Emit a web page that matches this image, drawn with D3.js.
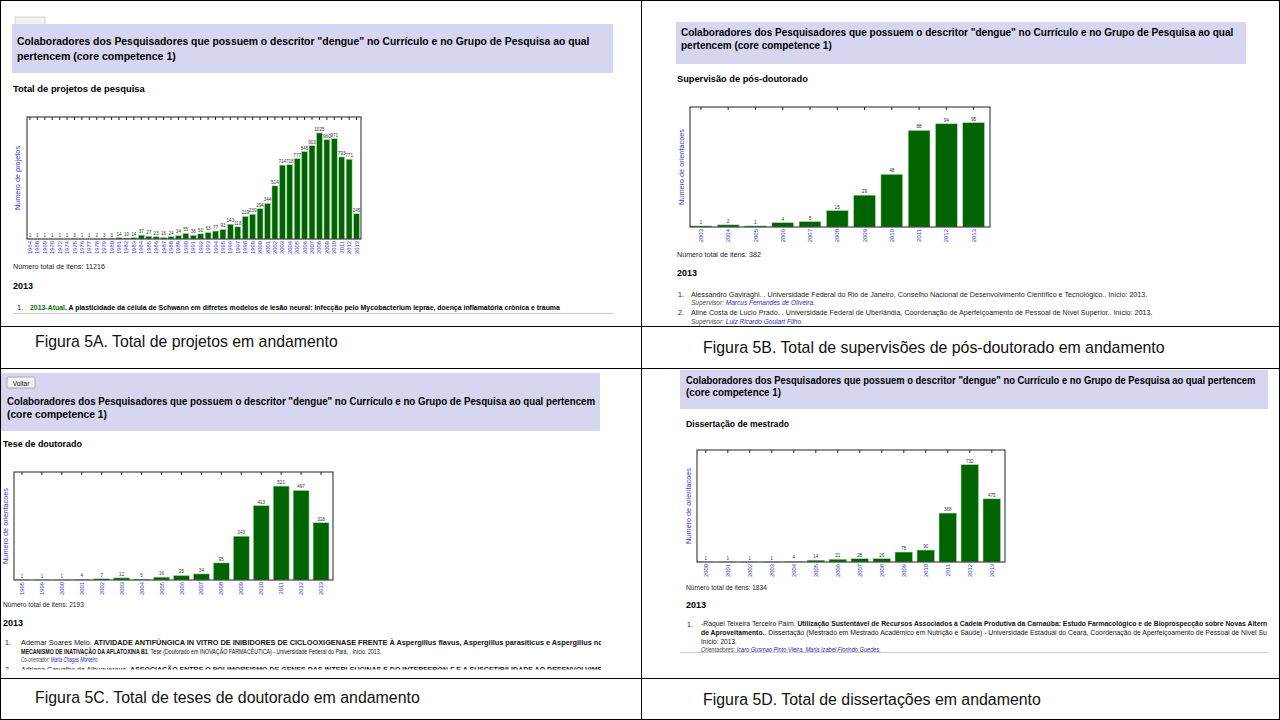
<!DOCTYPE html>
<html><head><meta charset="utf-8">
<script src="https://cdn.jsdelivr.net/npm/d3@7"></script>
<style>
html,body{margin:0;padding:0;background:#fff;}
svg{display:block;}
text{font-family:"Liberation Sans",Arial,sans-serif;}
</style></head>
<body>
<svg id="c" width="1280" height="720"></svg>
<script>
// ---------------- DATA ----------------
const yearsA = ["1964","1968","1969","1970","1972","1974","1975","1976","1977","1978","1979","1980","1981","1982","1983","1984","1985","1986","1987","1988","1989","1990","1991","1992","1993","1994","1995","1996","1997","1998","1999","2000","2001","2002","2003","2004","2005","2006","2007","2008","2009","2010","2011","2012","2013"];
const valuesA = [1,1,1,1,1,1,3,1,1,2,3,3,14,10,14,37,27,23,16,24,34,55,36,50,63,77,93,143,118,219,239,294,344,514,714,718,777,845,903,1025,960,971,793,771,245];
const yearsB = ["2003","2004","2005","2006","2007","2008","2009","2010","2011","2012","2013"];
const valuesB = [1,2,1,4,5,15,29,48,88,94,95];
const yearsC = ["1995","1999","2000","2001","2002","2003","2004","2005","2006","2007","2008","2009","2010","2011","2012","2013"];
const valuesC = [1,1,1,4,7,12,5,16,25,34,95,243,413,521,497,318];
const yearsD = ["2000","2001","2002","2003","2004","2005","2006","2007","2008","2009","2010","2011","2012","2013"];
const valuesD = [1,1,1,1,4,14,21,25,26,75,90,368,732,475];

const titleLong = "Colaboradores dos Pesquisadores que possuem o descritor \"dengue\" no Currículo e no Grupo de Pesquisa ao qual";
const titleEnd = "pertencem (core competence 1)";
const captions = ["Figura 5A. Total de projetos em andamento","Figura 5B. Total de supervisões de pós-doutorado em andamento","Figura 5C. Total de teses de doutorado em andamento","Figura 5D. Total de dissertações em andamento"];
const totals = [11216, 382, 2193, 1834];

// ---------------- HELPERS ----------------
const svg = d3.select("#c");
const defs = svg.append("defs");

function txt(g, x, y, parts, size, opts={}) {
  const t = g.append("text").attr("x", x).attr("y", y).attr("font-size", size)
    .attr("fill", opts.fill || "#000");
  if (opts.weight) t.attr("font-weight", opts.weight);
  if (opts.style) t.attr("font-style", opts.style);
  if (opts.anchor) t.attr("text-anchor", opts.anchor);
  if (typeof parts === "string") parts = [[parts, {}]];
  parts.forEach(([s, o]) => {
    const sp = t.append("tspan").text(s);
    if (o.weight) sp.attr("font-weight", o.weight);
    if (o.fill) sp.attr("fill", o.fill);
    if (o.style) sp.attr("font-style", o.style);
  });
  if (opts.w) {
    const bw = t.node().getComputedTextLength();
    const k = opts.w / bw;
    t.attr("transform", `translate(${x * (1 - k)},0) scale(${k},1)`);
  }
  return t;
}

function barChart(g, o) {
  const x = d3.scaleBand().domain(o.years).range([o.x0, o.x1])
    .paddingInner(0.2).paddingOuter(0.1).align(0);
  const y = d3.scaleLinear().domain([0, d3.max(o.values) * 1.15]).range([o.y1, o.y0]);
  const data = o.years.map((yr, i) => ({yr, v: o.values[i]}));

  g.append("g").selectAll("rect").data(data).join("rect")
    .attr("x", d => x(d.yr)).attr("width", x.bandwidth())
    .attr("y", d => y(d.v)).attr("height", d => y(0) - y(d.v))
    .attr("fill", "#006400").attr("stroke", "#b9dbb9").attr("stroke-width", 0.6);

  g.append("g").selectAll("text").data(data).join("text")
    .attr("x", d => x(d.yr) + x.bandwidth() / 2).attr("y", d => y(d.v) - 2)
    .attr("text-anchor", "middle").attr("font-size", o.valFont || 5)
    .attr("font-family", "DejaVu Sans").attr("fill", "#333")
    .text(d => d.v);

  g.append("rect").attr("x", o.x0).attr("y", o.y0)
    .attr("width", o.x1 - o.x0).attr("height", o.y1 - o.y0)
    .attr("fill", "none").attr("stroke", "#222").attr("stroke-width", 1);

  const top = g.append("g").attr("transform", `translate(0,${o.y0})`)
    .call(d3.axisTop(x).tickSizeInner(-3).tickSizeOuter(0).tickFormat(""));
  top.select(".domain").remove();
  top.selectAll("line").attr("stroke", "#222");

  const bot = g.append("g").attr("transform", `translate(0,${o.y1})`)
    .call(d3.axisBottom(x).tickSize(0).tickPadding(0));
  bot.select(".domain").remove();
  bot.selectAll("text")
    .attr("font-family", "DejaVu Sans").attr("font-size", o.xFont || 6)
    .attr("fill", "#3535cc")
    .attr("transform", "rotate(-90)").attr("text-anchor", "end")
    .attr("x", -2).attr("y", 0).attr("dy", "0.35em");

  const left = g.append("g").attr("transform", `translate(${o.x0},0)`)
    .call(d3.axisLeft(y).ticks(0).tickSizeOuter(0));
  left.select(".domain").remove();
  g.append("text")
    .attr("transform", `translate(${o.x0 - o.ylabOff},${(o.y0 + o.y1) / 2}) rotate(-90)`)
    .attr("text-anchor", "middle").attr("font-size", o.ylabFont || 7.5)
    .attr("font-family", "DejaVu Sans").attr("fill", "#3535cc")
    .text(o.ylabel);
}

const lav = "#d6d6f0";

// ---------------- PANEL A ----------------
{
  const g = svg.append("g");
  g.append("rect").attr("x", 15).attr("y", 17).attr("width", 30).attr("height", 9)
    .attr("fill", "#f3f3f3").attr("stroke", "#ccc").attr("stroke-width", 0.8);
  g.append("rect").attr("x", 12).attr("y", 24).attr("width", 601).attr("height", 49).attr("fill", lav);
  txt(g, 17, 45, titleLong, 11, {weight: "bold", w: 573});
  txt(g, 17, 60, titleEnd, 11, {weight: "bold", w: 159});
  txt(g, 13, 92, "Total de projetos de pesquisa", 9, {weight: "bold", w: 132});
  barChart(g, {years: yearsA, values: valuesA, x0: 27, x1: 361, y0: 117, y1: 239,
    ylabel: "Numero de projetos", ylabOff: 7, xFont: 5.8, valFont: 4.6, ylabFont: 7.3});
  txt(g, 13, 269, "Número total de itens: " + totals[0], 8, {fill: "#222", w: 92});
  txt(g, 13, 289, "2013", 9.5, {weight: "bold", w: 20});
  txt(g, 17, 310, "1.", 7.5, {fill: "#222"});
  txt(g, 30, 310, [["2013-Atual", {fill: "#0a6e0a"}], [". A plasticidade da célula de Schwann em difretes modelos de lesão neural: Infecção pelo Mycobacterium leprae, doença inflamatória crônica e trauma", {}]], 7.5, {weight: "bold", w: 531});
  g.append("line").attr("x1", 13).attr("x2", 613).attr("y1", 313.5).attr("y2", 313.5).attr("stroke", "#ccc");
}

// ---------------- PANEL B ----------------
{
  const g = svg.append("g");
  g.append("rect").attr("x", 676).attr("y", 22).attr("width", 570).attr("height", 42).attr("fill", lav);
  txt(g, 681, 36, titleLong, 10.5, {weight: "bold", w: 553});
  txt(g, 681, 49, titleEnd, 10.5, {weight: "bold", w: 151});
  txt(g, 677, 82, "Supervisão de pós-doutorado", 9, {weight: "bold", w: 131});
  barChart(g, {years: yearsB, values: valuesB, x0: 690, x1: 990, y0: 107, y1: 227,
    ylabel: "Numero de orientacoes", ylabOff: 6, xFont: 6, valFont: 4.8, ylabFont: 7.3});
  txt(g, 677, 257, "Número total de itens: " + totals[1], 7.5, {fill: "#222", w: 84});
  txt(g, 677, 276, "2013", 9.5, {weight: "bold", w: 20});
  txt(g, 678, 297, "1.", 7, {fill: "#222"});
  txt(g, 691, 297, "Alessandro Gaviraghi. . Universidade Federal do Rio de Janeiro, Conselho Nacional de Desenvolvimento Científico e Tecnológico.. Início: 2013.", 7, {fill: "#222", w: 457});
  txt(g, 691, 305, [["Supervisor: ", {fill: "#444"}], ["Marcus Fernandes de Oliveira.", {fill: "#2a2ab0"}]], 6.3, {style: "italic", w: 124});
  txt(g, 678, 315, "2.", 7, {fill: "#222"});
  txt(g, 691, 315, "Aline Costa de Lucio Prado. . Universidade Federal de Uberlândia, Coordenação de Aperfeiçoamento de Pessoal de Nível Superior.. Início: 2013.", 7, {fill: "#222", w: 462});
  txt(g, 691, 324, [["Supervisor: ", {fill: "#444"}], ["Luiz Ricardo Goulart Filho.", {fill: "#2a2ab0"}]], 6.3, {style: "italic", w: 112});
}

// ---------------- PANEL C ----------------
{
  const g = svg.append("g");
  g.append("rect").attr("x", 0).attr("y", 373).attr("width", 600).attr("height", 58).attr("fill", lav);
  g.append("rect").attr("x", 7).attr("y", 377).attr("width", 28).attr("height", 11)
    .attr("fill", "#f2f2f2").attr("stroke", "#999").attr("stroke-width", 0.8).attr("rx", 1);
  txt(g, 21, 385.5, "Voltar", 6.5, {anchor: "middle", fill: "#111"});
  txt(g, 7, 405, titleLong + " pertencem", 10.5, {weight: "bold", w: 589});
  txt(g, 7, 418, "(core competence 1)", 10.5, {weight: "bold", w: 100});
  txt(g, 3, 447, "Tese de doutorado", 9, {weight: "bold", w: 79});
  barChart(g, {years: yearsC, values: valuesC, x0: 14, x1: 333, y0: 472, y1: 580,
    ylabel: "Numero de orientacoes", ylabOff: 6, xFont: 5.8, valFont: 4.6, ylabFont: 7.3});
  txt(g, 3, 607, "Número total de itens: " + totals[2], 7.5, {fill: "#222", w: 81});
  txt(g, 3, 626, "2013", 9.5, {weight: "bold", w: 20});
  defs.append("clipPath").attr("id", "clipC").append("rect")
    .attr("x", 0).attr("y", 630).attr("width", 601).attr("height", 39.5);
  const gi = g.append("g").attr("clip-path", "url(#clipC)");
  txt(gi, 5, 645, "1.", 7, {fill: "#222"});
  txt(gi, 21, 645, [["Ademar Soares Melo. ", {}], ["ATIVIDADE ANTIFÚNGICA IN VITRO DE INIBIDORES DE CICLOOXIGENASE FRENTE À Aspergillus flavus, Aspergillus parasiticus e Aspergillus no", {weight: "bold"}]], 7, {fill: "#111", w: 583});
  txt(gi, 21, 654, [["MECANISMO DE INATIVAÇÃO DA AFLATOXINA B1", {weight: "bold"}], [". Tese (Doutorado em INOVAÇÃO FARMACÊUTICA) - Universidade Federal do Pará, . Início: 2013.", {}]], 7, {fill: "#111", w: 361});
  txt(gi, 21, 662, [["Co-orientador: ", {fill: "#444"}], ["Marta Chagas Monteiro.", {fill: "#2a2ab0"}]], 6.3, {style: "italic", w: 78});
  txt(gi, 5, 672, "2.", 7, {fill: "#222"});
  txt(gi, 21, 672, [["Adriana Carvalho de Albuquerque. ", {}], ["ASSOCIAÇÃO ENTRE O POLIMORFISMO DE GENES DAS INTERLEUCINAS E DO INTERFERON-Γ E A SUSCETIBILIDADE AO DESENVOLVIME", {weight: "bold"}]], 7, {fill: "#111", w: 582});
}

// ---------------- PANEL D ----------------
{
  const g = svg.append("g");
  g.append("rect").attr("x", 680).attr("y", 370).attr("width", 588).attr("height", 39).attr("fill", lav);
  txt(g, 686, 384, titleLong + " pertencem", 10, {weight: "bold", w: 570});
  txt(g, 686, 396, "(core competence 1)", 10, {weight: "bold", w: 95});
  txt(g, 686, 427, "Dissertação de mestrado", 9, {weight: "bold", w: 103});
  barChart(g, {years: yearsD, values: valuesD, x0: 697, x1: 1005, y0: 450, y1: 562,
    ylabel: "Numero de orientacoes", ylabOff: 6, xFont: 5.8, valFont: 4.6, ylabFont: 7.3});
  txt(g, 686, 590, "Número total de itens: " + totals[3], 7.5, {fill: "#222", w: 81});
  txt(g, 686, 608, "2013", 9.5, {weight: "bold", w: 20});
  defs.append("clipPath").attr("id", "clipD").append("rect")
    .attr("x", 680).attr("y", 612).attr("width", 588).attr("height", 40);
  const gi = g.append("g").attr("clip-path", "url(#clipD)");
  txt(gi, 687, 626.5, "1.", 7, {fill: "#222"});
  txt(gi, 701, 626.5, [["-Raquel Teixeira Terceiro Paim. ", {}], ["Utilização Sustentável de Recursos Associados à Cadeia Produtiva da Carnaúba: Estudo Farmacológico e de Bioprospecção sobre Novas Altern", {weight: "bold"}]], 7, {fill: "#111", w: 567});
  txt(gi, 701, 635.5, [["de Aproveitamento.", {weight: "bold"}], [". Dissertação (Mestrado em Mestrado Acadêmico em Nutrição e Saúde) - Universidade Estadual do Ceará, Coordenação de Aperfeiçoamento de Pessoal de Nível Su", {}]], 7, {fill: "#111", w: 567});
  txt(gi, 701, 644, "Início: 2013.", 7, {fill: "#111", w: 36});
  txt(gi, 701, 652.5, [["Orientadores: ", {fill: "#444"}], ["Icaro Gusmao Pinto Vieira, Maria Izabel Florindo Guedes.", {fill: "#2a2ab0"}]], 6.3, {style: "italic", w: 180});
  g.append("line").attr("x1", 680).attr("x2", 1268).attr("y1", 652.5).attr("y2", 652.5).attr("stroke", "#ccc");
}

// ---------------- CAPTIONS ----------------
const cap = svg.append("g");
txt(cap, 35, 347, captions[0], 16, {fill: "#111", w: 303});
txt(cap, 703, 353, captions[1], 16, {fill: "#111", w: 462});
txt(cap, 35, 703, captions[2], 16, {fill: "#111", w: 385});
txt(cap, 703, 705, captions[3], 16, {fill: "#111", w: 338});

// ---------------- GRID LINES ----------------
const grid = svg.append("g").attr("stroke", "#000").attr("stroke-width", 1);
grid.append("rect").attr("x", 0.5).attr("y", 0.5).attr("width", 1279).attr("height", 719).attr("fill", "none");
grid.append("line").attr("x1", 641.5).attr("x2", 641.5).attr("y1", 0).attr("y2", 720);
[326.5, 368.5, 678.5].forEach(yy => grid.append("line").attr("x1", 0).attr("x2", 1280).attr("y1", yy).attr("y2", yy));
</script>
</body></html>
